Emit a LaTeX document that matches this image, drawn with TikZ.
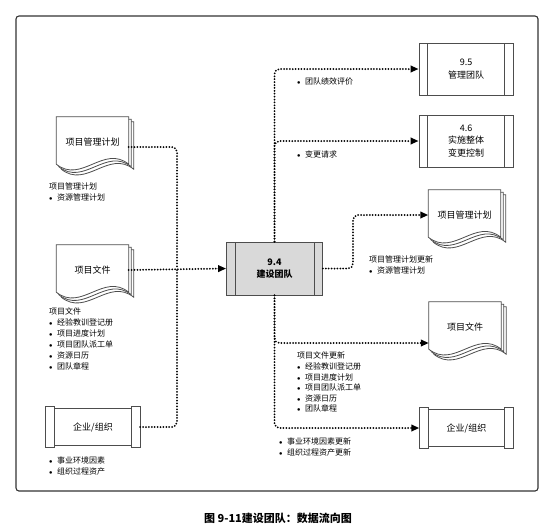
\documentclass[tikz,border=0pt]{standalone}
\usepackage{fontspec}
\setmainfont{Noto Sans CJK SC}
\usepackage{tikz}
\usetikzlibrary{arrows.meta,backgrounds}
\definecolor{boxline}{HTML}{4D4D4D}
\definecolor{procfill}{HTML}{D9D9D9}
\definecolor{framecol}{HTML}{333333}
\tikzset{
	proc/.style   = {draw=boxline, line width=.8pt, rectangle,
		minimum width = 94pt,
		minimum height = 52pt,
		align=center, font=\fontsize{9}{12.5}\selectfont,
		path picture={\draw[boxline, line width=.8pt]
			([xshift=8.5pt]path picture bounding box.north west) -- ([xshift=8.5pt]path picture bounding box.south west)
			([xshift=-8.5pt]path picture bounding box.north east) -- ([xshift=-8.5pt]path picture bounding box.south east);}},
	scroll/.style = {rectangle, inner sep=0pt,
		minimum width = 94pt,
		minimum height = 40pt,
		font=\fontsize{9}{11}\selectfont},
	doc/.style    = {rectangle, inner sep=0pt,
		minimum width = 72pt,
		minimum height = 50pt,
		font=\fontsize{9}{11}\selectfont},
	edge/.style   = {draw=boxline, line width=.8pt},
	flow/.style   = {line width=2pt, dash pattern=on 0pt off 2.9pt, line cap=round, rounded corners=5pt},
	note/.style   = {anchor=north west, inner sep=0pt, align=left, font=\fontsize{8}{11}\selectfont},
}
\newcommand{\itemdot}{\makebox[8pt][l]{\scalebox{0.8}{$\bullet$}}}
% one page of a document stack: #1 node, #2 offset
\newcommand{\docpage}[2]{%
	\draw[edge, fill=white]
	([shift={(#2pt,-#2pt)}]#1.north west) -- ([shift={(#2pt,-#2pt)}]#1.north east)
	-- ([shift={(#2pt,-#2pt+3pt)}]#1.south east)
	.. controls +(-25pt,20pt) and +(25pt,-20pt) .. ([shift={(#2pt,-#2pt+3pt)}]#1.south west) -- cycle;}

\begin{document}
\begin{tikzpicture}[ x=1pt, y=-1pt,                          %<--pixel grid, y runs downwards
                     >={Triangle[length=8pt,width=6.5pt]} ]   %<--sets the arrowtype

    \useasboundingbox (0,0) rectangle (556,528);
    \draw[framecol, line width=1.1pt, rounded corners=3pt] (16,16) rectangle (538,491);

    \draw%-----------------------------------------------------------------------------------------
    	%Drawing the Inputs:
    	node(pmpL) at (92.5,142) [doc] {项目管理计划}
    	node(pdocL) at (92.5,270) [doc] {项目文件}
    	node(orgL) at (93,427) [scroll] {企业/组织}
    	%Drawing the Process Blocks:
    	node(b94) at (274.5,268.5) [proc, fill=procfill, minimum width=96pt, minimum height=53pt,
    	    font=\fontsize{9}{11.5}\selectfont\bfseries] {9.4\\建设团队}
    	node(b95) at (466,69) [proc] {9.5\\管理团队}
    	node(b46) at (466,141) [proc] {4.6\\实施整体\\变更控制}
    	%Drawing the Outputs:
    	node(pmpR) at (464.5,215) [doc] {项目管理计划}
    	node(pdocR) at (465,327) [doc] {项目文件}
    	node(orgR) at (466.5,428) [scroll] {企业/组织}
    	%Drawing the Bend Nodes:
    	node[shape=coordinate][](hubL) at (177,269){}
    	node[shape=coordinate][](bendR) at (353,240){}
    ;%---------------------------------------------------------------------------------------------

    %Drawing the scroll ends
    \foreach \n in {orgL,orgR}{
    	\draw[edge] (\n.north west) rectangle ([xshift=9pt]\n.south west)
    	    ([xshift=-9pt]\n.north east) rectangle (\n.south east)
    	    ([xshift=9pt,yshift=-2pt]\n.north west) rectangle ([xshift=-9pt,yshift=2pt]\n.south east);
    }
    %Drawing the document stacks
    \begin{scope}[on background layer]
    \foreach \n in {pmpL,pdocL,pmpR,pdocR}{
    	\docpage{\n}{5}
    	\docpage{\n}{2.5}
    	\docpage{\n}{0}
    }
    \end{scope}

    %Joining the Blocks
  	\draw[flow] ([yshift=-5pt]pmpL.east) -| (hubL);
  	\draw[flow] (orgL.east) -| (hubL);
  	\draw[flow,->] (pdocL.east) -- (b94.west);
  	\draw[flow,->] (b94.north) |- (b95.west);
  	\draw[flow,->] (b94.north) |- (b46.west);
  	\draw[flow,->] (b94.east) -| (bendR) |- (pmpR.west);
  	\draw[flow,->] (b94.south) |- ([yshift=-16pt]pdocR.west);
  	\draw[flow,->] (b94.south) |- (orgR.west);

    \draw%--------------------------------------------------------------
    	%Drawing the data labels:
    	node(nPmp) at (49,183) [note] {项目管理计划\\\itemdot 资源管理计划}
    	node(nDoc) at (49,308) [note] {项目文件\\\itemdot 经验教训登记册\\\itemdot 项目进度计划\\
    	    \itemdot 项目团队派工单\\\itemdot 资源日历\\\itemdot 团队章程}
    	node(nOrg) at (49,457) [note, font=\fontsize{8}{10.5}\selectfont] {\itemdot 事业环境因素\\\itemdot 组织过程资产}
    	node(nPerf) at (297,78) [note] {\itemdot 团队绩效评价}
    	node(nChg) at (297,151) [note] {\itemdot 变更请求}
    	node(nPmpU) at (369,256) [note, font=\fontsize{8}{10.5}\selectfont] {项目管理计划更新\\\itemdot 资源管理计划}
    	node(nDocU) at (297,352) [note, font=\fontsize{8}{10.6}\selectfont] {项目文件更新\\\itemdot 经验教训登记册\\\itemdot 项目进度计划\\
    	    \itemdot 项目团队派工单\\\itemdot 资源日历\\\itemdot 团队章程}
    	node(nOrgU) at (279,438) [note, font=\fontsize{8}{10.8}\selectfont] {\itemdot 事业环境因素更新\\\itemdot 组织过程资产更新}
    	%Drawing the caption:
    	node(caption) at (278,518) [font=\fontsize{11}{13}\selectfont\bfseries] {图 9-11建设团队：数据流向图}
    ;%------------------------------------------------------------------
\end{tikzpicture}
\end{document}
